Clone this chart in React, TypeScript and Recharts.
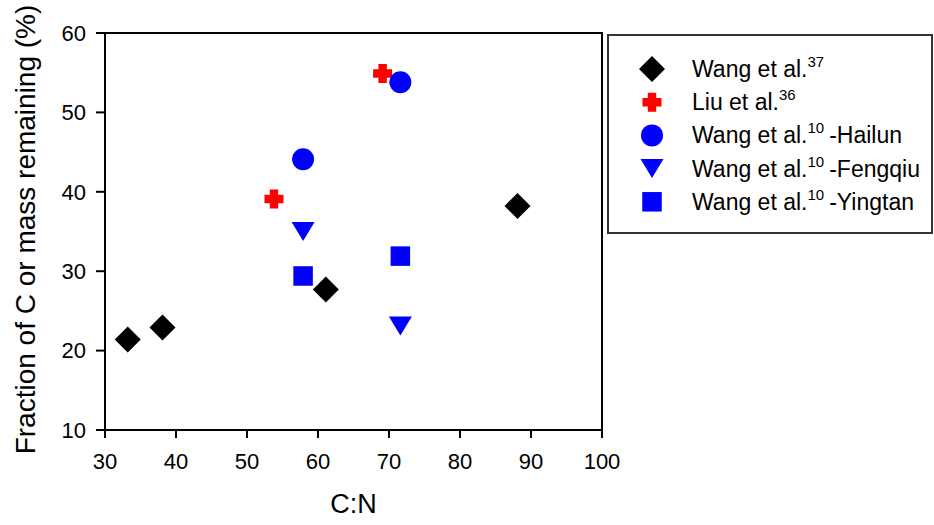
import React from "react";
import {
  ScatterChart,
  Scatter,
  XAxis,
  YAxis,
  ReferenceArea,
} from "recharts";

// --- data ---
const wang37 = [
  { x: 33.2, y: 21.4 },
  { x: 38.1, y: 22.9 },
  { x: 61.1, y: 27.7 },
  { x: 88.1, y: 38.2 },
];
const liu36 = [
  { x: 53.8, y: 39.1 },
  { x: 69.1, y: 54.9 },
];
const hailun = [
  { x: 57.9, y: 44.1 },
  { x: 71.6, y: 53.8 },
];
const fengqiu = [
  { x: 57.9, y: 35.0 },
  { x: 71.6, y: 23.1 },
];
const yingtan = [
  { x: 57.9, y: 29.4 },
  { x: 71.6, y: 31.9 },
];

const xTicks = [30, 40, 50, 60, 70, 80, 90, 100];
const yTicks = [10, 20, 30, 40, 50, 60];

const FONT = '"Liberation Sans", Arial, sans-serif';
const BLUE = "#0000ff";
const RED = "#ff0000";

// --- marker shapes (shared by plot and legend) ---
const Diamond = ({ cx, cy }: any) => (
  <polygon
    points={`${cx},${cy - 13} ${cx + 13},${cy} ${cx},${cy + 13} ${cx - 13},${cy}`}
    fill="#000"
  />
);

const Cross = ({ cx, cy }: any) => {
  const a = 9.5; // half length
  const w = 4.2; // half arm width
  const pts = [
    [cx - w, cy - a], [cx + w, cy - a], [cx + w, cy - w], [cx + a, cy - w],
    [cx + a, cy + w], [cx + w, cy + w], [cx + w, cy + a], [cx - w, cy + a],
    [cx - w, cy + w], [cx - a, cy + w], [cx - a, cy - w], [cx - w, cy - w],
  ];
  return <polygon points={pts.map((p) => p.join(",")).join(" ")} fill={RED} />;
};

const Dot = ({ cx, cy }: any) => <circle cx={cx} cy={cy} r={11} fill={BLUE} />;

const TriDown = ({ cx, cy }: any) => (
  <polygon
    points={`${cx - 11.5},${cy - 9.5} ${cx + 11.5},${cy - 9.5} ${cx},${cy + 9.5}`}
    fill={BLUE}
  />
);

const Square = ({ cx, cy }: any) => (
  <rect x={cx - 9.75} y={cy - 9.75} width={19.5} height={19.5} fill={BLUE} />
);

const YLabel = ({ viewBox }: any) => {
  const x = 25;
  const y = viewBox.y + viewBox.height / 2 - 2;
  return (
    <text
      x={x}
      y={y}
      dy="0.35em"
      textAnchor="middle"
      transform={`rotate(-90 ${x} ${y})`}
      fontFamily={FONT}
      fontSize={28}
      fill="#000"
    >
      Fraction of C or mass remaining (%)
    </text>
  );
};

const XLabel = ({ viewBox }: any) => (
  <text
    x={viewBox.x + viewBox.width / 2}
    y={504}
    dy="0.35em"
    textAnchor="middle"
    fontFamily={FONT}
    fontSize={27}
    fill="#000"
  >
    C:N
  </text>
);

// --- legend box, drawn as its own svg ---
const legendRows = [
  { Shape: Diamond, main: "Wang et al.", sup: "37", tail: "" },
  { Shape: Cross, main: "Liu et al.", sup: "36", tail: "" },
  { Shape: Dot, main: "Wang et al.", sup: "10", tail: "-Hailun" },
  { Shape: TriDown, main: "Wang et al.", sup: "10", tail: "-Fengqiu" },
  { Shape: Square, main: "Wang et al.", sup: "10", tail: "-Yingtan" },
];

function LegendBox() {
  return (
    <svg
      width={326}
      height={200}
      style={{ position: "absolute", left: 607, top: 34 }}
    >
      <rect x={1} y={1} width={324} height={198} fill="#fff" stroke="#333" strokeWidth={2} />
      {legendRows.map((r, i) => {
        const cy = 35 + i * 33.2;
        return (
          <g key={i}>
            <r.Shape cx={45} cy={cy} />
            <text x={85} y={cy + 8} fontFamily={FONT} fontSize={23} fill="#000">
              {r.main}
              <tspan dy={-10} fontSize={15}>{r.sup}</tspan>
              {r.tail && <tspan dx={5} dy={10}>{r.tail}</tspan>}
            </text>
          </g>
        );
      })}
    </svg>
  );
}

export default function App() {
  const tickStyle = { fill: "#000", fontSize: 22, fontFamily: FONT };
  const lineStyle = { stroke: "#000", strokeWidth: 2 };
  return (
    <div style={{ position: "absolute", left: 0, top: 0, width: 934, height: 525, background: "#fff" }}>
      <ScatterChart
        width={934}
        height={525}
        margin={{ top: 33, right: 332, bottom: 0, left: 0 }}
      >
        <XAxis
          type="number"
          dataKey="x"
          domain={[30, 100]}
          ticks={xTicks}
          allowDataOverflow
          height={95}
          tickSize={8}
          tickMargin={15}
          axisLine={lineStyle}
          tickLine={lineStyle}
          tick={tickStyle}
          label={<XLabel />}
        />
        <YAxis
          type="number"
          dataKey="y"
          domain={[10, 60]}
          ticks={yTicks}
          allowDataOverflow
          width={105}
          tickSize={9}
          tickMargin={10}
          axisLine={lineStyle}
          tickLine={lineStyle}
          tick={tickStyle}
          label={<YLabel />}
        />
        <ReferenceArea x1={30} x2={100} y1={10} y2={60} fill="none" stroke="#000" strokeWidth={2} />
        <Scatter data={wang37} shape={Diamond} isAnimationActive={false} />
        <Scatter data={liu36} shape={Cross} isAnimationActive={false} />
        <Scatter data={hailun} shape={Dot} isAnimationActive={false} />
        <Scatter data={fengqiu} shape={TriDown} isAnimationActive={false} />
        <Scatter data={yingtan} shape={Square} isAnimationActive={false} />
      </ScatterChart>
      <LegendBox />
    </div>
  );
}
